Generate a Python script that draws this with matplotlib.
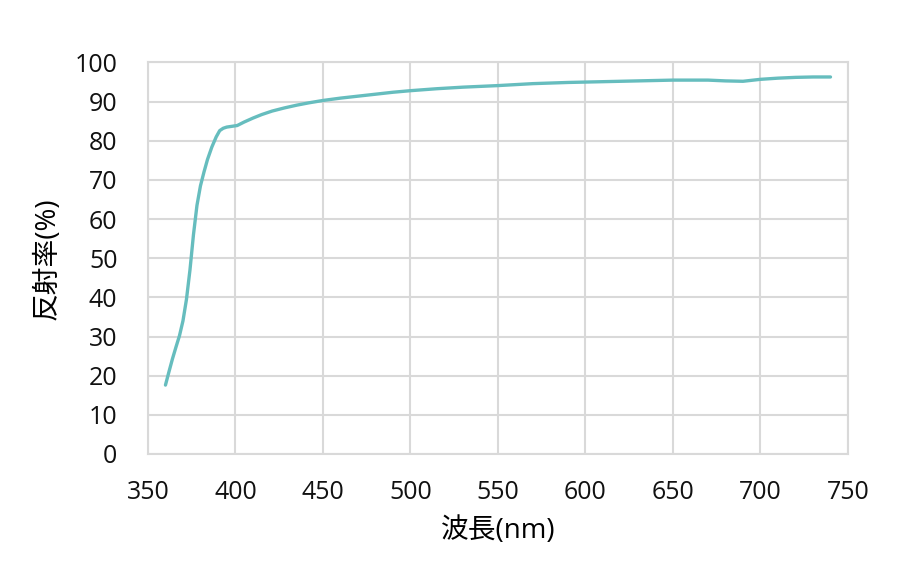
import matplotlib
matplotlib.use("Agg")
import matplotlib.pyplot as plt

plt.rcParams['font.family'] = ['Open Sans', 'Noto Sans CJK JP', 'DejaVu Sans']

wavelength = [360, 362, 364, 366, 368, 370, 372, 374, 376, 378, 380, 382, 384, 386.5, 389, 391, 393, 395, 398, 401,
              405, 410, 415, 421, 428, 435, 442, 450, 460, 470, 480, 490, 500, 515, 530,
              550, 570, 590, 610, 630, 650, 670, 680, 690, 700, 710, 720, 730, 740]
reflectance = [17.6, 21.0, 24.3, 27.3, 30.2, 34.0, 39.5, 47.0, 56.0, 63.5, 68.5, 72.0, 75.2, 78.4, 81.0, 82.6, 83.2, 83.5, 83.7, 83.9,
               84.8, 85.8, 86.7, 87.6, 88.4, 89.1, 89.7, 90.3, 90.9, 91.4, 91.9, 92.4, 92.8, 93.3, 93.7,
               94.1, 94.6, 94.9, 95.1, 95.3, 95.5, 95.5, 95.3, 95.2, 95.7, 96.0, 96.2, 96.3, 96.3]

x_ticks = [350, 400, 450, 500, 550, 600, 650, 700, 750]
y_ticks = [0, 10, 20, 30, 40, 50, 60, 70, 80, 90, 100]

fig = plt.figure(figsize=(9, 5.62), dpi=100)
ax = fig.add_axes([0.1644, 0.1922, 0.7778, 0.6966])

ax.plot(wavelength, reflectance, color='#66BDBE', linewidth=2.4,
        solid_capstyle='round', solid_joinstyle='round')

ax.set_xlim(350, 750)
ax.set_ylim(0, 100)
ax.set_xticks(x_ticks)
ax.set_yticks(y_ticks)
ax.grid(True, color='#D9D9D9', linewidth=1.5)
ax.set_axisbelow(True)
for s in ax.spines.values():
    s.set_color('#D9D9D9')
    s.set_linewidth(1.5)
ax.tick_params(length=0, labelsize=18, colors='#111111')
ax.tick_params(axis='y', pad=22)
ax.tick_params(axis='x', pad=19)

ax.set_xlabel('波長(nm)', fontsize=20)
ax.set_ylabel('反射率(%)', fontsize=20)
ax.xaxis.label.set_va('center')
ax.yaxis.label.set_va('center')
ax.xaxis.set_label_coords(0.5, (454 - 531) / (454 - 62.5))
ax.yaxis.set_label_coords((48 - 148) / 700, 0.5)

fig.savefig('out.png', dpi=100)
